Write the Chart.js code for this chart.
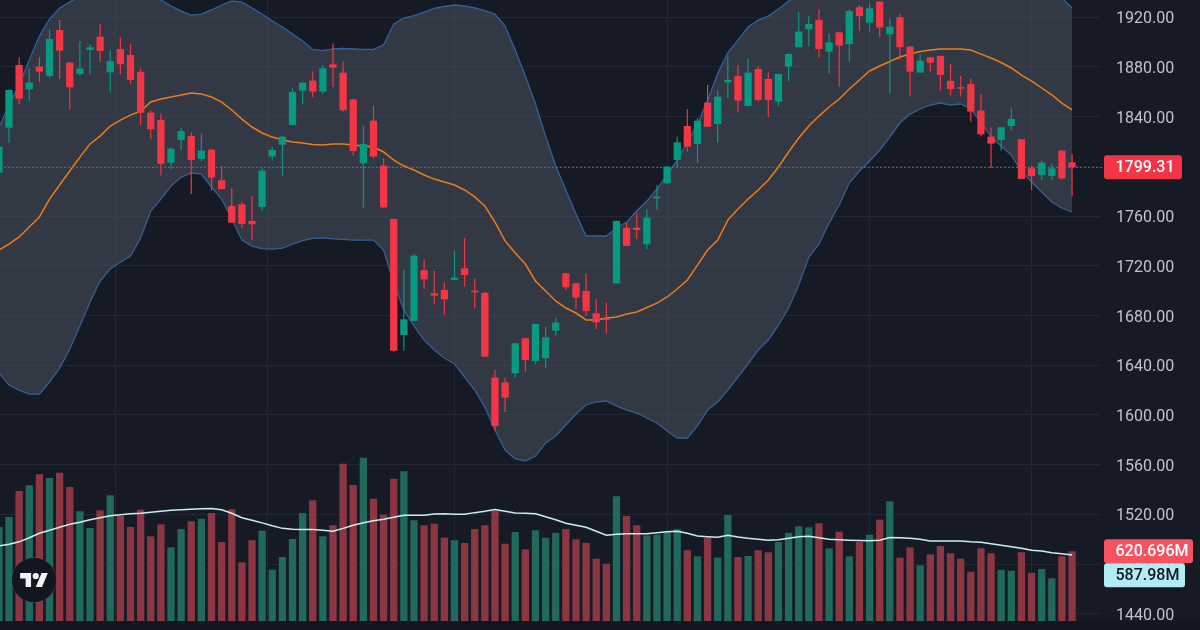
<!DOCTYPE html>
<html><head><meta charset="utf-8">
<script src="https://cdn.jsdelivr.net/npm/chart.js@4.4.1/dist/chart.umd.min.js"></script>
<style>html,body{margin:0;padding:0;background:#161a25;}canvas{display:block;}</style>
</head><body>
<canvas id="c" width="1200" height="630"></canvas>
<script>
// ---- data ----
const openP = [1795.0,1831.2,1881.6,1862.0,1880.3,1872.8,1909.8,1883.5,1874.4,1893.7,
1904.4,1875.7,1894.5,1889.7,1876.2,1843.3,1837.4,1803.0,1821.3,1824.5,
1806.0,1813.5,1788.8,1768.2,1769.5,1756.1,1767.4,1808.0,1817.5,1833.3,
1861.0,1869.0,1860.2,1882.2,1875.4,1854.0,1802.5,1836.8,1800.6,1757.7,
1664.3,1675.6,1716.4,1697.9,1700.6,1708.6,1718.0,1700.0,1698.4,1630.0,
1626.2,1633.5,1661.7,1643.4,1645.6,1667.8,1714.0,1705.9,1699.7,1681.8,
1677.8,1705.9,1750.7,1750.7,1737.3,1774.3,1786.4,1805.2,1832.5,1818.0,
1851.3,1834.2,1867.7,1872.8,1848.6,1878.4,1870.4,1852.1,1880.3,1895.9,
1910.3,1917.9,1892.4,1907.9,1898.3,1928.1,1915.7,1932.6,1906.3,1920.0,
1896.4,1875.5,1887.8,1888.9,1868.8,1863.7,1866.3,1844.9,1824.0,1821.3,
1832.5,1821.8,1798.5,1793.1,1792.3,1812.7,1803.3];
const highP = [1818.0,1862.0,1887.8,1879.0,1887.8,1910.3,1917.9,1884.0,1901.0,1898.5,
1914.6,1893.7,1903.9,1898.5,1879.0,1844.9,1842.2,1815.0,1831.2,1827.4,
1826.6,1814.0,1800.4,1782.4,1771.6,1776.2,1799.0,1815.9,1824.3,1862.9,
1867.6,1876.3,1881.6,1899.0,1884.3,1854.5,1832.8,1848.6,1806.3,1758.0,
1716.6,1729.3,1725.2,1716.1,1706.5,1732.2,1742.1,1709.7,1698.8,1636.2,
1630.0,1657.8,1662.0,1673.5,1671.1,1677.8,1714.5,1706.2,1714.0,1693.0,
1690.4,1756.5,1754.7,1762.3,1765.5,1785.1,1800.5,1824.0,1846.0,1838.7,
1865.5,1861.0,1888.3,1881.6,1886.5,1880.3,1875.5,1874.8,1891.0,1924.0,
1921.1,1926.4,1907.1,1908.2,1926.4,1930.0,1931.3,1932.9,1918.7,1922.7,
1896.7,1890.5,1888.1,1889.2,1882.4,1872.8,1870.4,1858.3,1831.5,1831.8,
1846.5,1822.1,1800.6,1804.6,1802.5,1813.0,1810.0];
const lowP = [1793.0,1819.0,1850.0,1852.7,1868.2,1871.4,1870.4,1846.0,1872.8,1874.4,
1884.0,1859.4,1874.4,1866.3,1833.3,1821.8,1792.6,1797.7,1813.2,1777.8,
1804.4,1780.5,1781.5,1754.5,1750.2,1740.8,1764.1,1804.6,1792.6,1833.0,
1850.0,1855.6,1858.3,1863.7,1844.1,1808.7,1766.7,1806.6,1766.5,1650.9,
1651.7,1675.3,1701.6,1688.8,1680.7,1708.3,1703.3,1685.8,1646.6,1587.0,
1602.6,1630.0,1634.8,1641.0,1638.0,1663.8,1700.6,1685.0,1679.6,1669.2,
1665.6,1705.6,1735.8,1741.3,1733.3,1764.9,1786.0,1799.8,1811.9,1802.5,
1831.8,1819.1,1854.8,1843.5,1848.3,1852.1,1839.5,1848.6,1868.2,1895.6,
1896.4,1887.8,1874.9,1864.2,1884.3,1909.3,1908.5,1904.4,1858.8,1886.2,
1856.2,1875.2,1876.3,1861.0,1857.0,1856.2,1836.0,1824.0,1798.5,1812.7,
1829.3,1789.6,1781.0,1789.1,1789.1,1789.1,1775.7];
const closeP = [1815.9,1861.5,1854.5,1867.4,1876.3,1902.6,1893.2,1863.7,1878.7,1895.9,
1892.9,1884.8,1882.2,1869.6,1843.3,1829.9,1802.0,1814.3,1828.5,1805.2,
1812.7,1791.0,1781.8,1754.7,1753.7,1753.4,1796.6,1813.2,1824.0,1859.9,
1867.4,1860.2,1879.0,1879.5,1845.2,1812.4,1818.0,1807.9,1767.0,1651.7,
1676.9,1728.2,1709.1,1696.0,1693.0,1710.5,1712.6,1698.7,1646.9,1591.1,
1613.9,1657.6,1644.2,1673.2,1662.5,1674.3,1702.7,1694.4,1683.7,1674.5,
1676.4,1756.1,1736.0,1748.8,1758.8,1775.7,1799.8,1819.4,1815.9,1836.8,
1832.0,1856.2,1869.6,1852.9,1875.5,1853.5,1853.5,1874.4,1890.5,1908.5,
1914.6,1894.5,1899.9,1897.2,1925.1,1921.1,1927.2,1911.7,1912.5,1895.9,
1876.3,1885.1,1883.5,1873.6,1862.3,1862.6,1844.1,1825.8,1818.3,1831.5,
1838.2,1789.9,1792.3,1803.0,1798.5,1790.4,1799.31];
const bbUpper = [1830.9,1849.4,1865.5,1885.6,1904.9,1918.6,1927.5,1932.3,1937.0,1940.0,
1942.0,1946.0,1950.0,1950.0,1947.0,1940.0,1934.0,1929.1,1925.0,1921.8,
1922.6,1925.9,1929.9,1933.1,1932.3,1927.5,1922.6,1917.0,1912.2,1906.5,
1900.9,1894.1,1893.2,1894.5,1894.9,1894.5,1894.2,1894.2,1897.7,1914.6,
1919.4,1921.4,1924.2,1927.2,1928.7,1929.9,1929.1,1927.5,1925.4,1922.6,
1913.0,1893.7,1872.7,1850.2,1824.4,1800.3,1781.0,1761.7,1744.0,1744.0,
1744.0,1750.4,1755.2,1764.1,1772.1,1781.8,1793.1,1805.1,1819.6,1834.1,
1853.0,1875.0,1891.3,1901.7,1912.2,1917.8,1921.0,1926.7,1933.1,1938.0,
1944.0,1948.0,1950.0,1952.0,1953.0,1954.0,1955.0,1955.0,1954.0,1952.0,
1950.0,1948.0,1946.0,1945.0,1945.0,1945.0,1945.0,1947.0,1951.0,1951.0,
1949.0,1951.0,1950.0,1947.0,1944.0,1935.5,1927.5];
const bbMiddle = [1732.7,1737.5,1743.2,1751.2,1759.3,1773.7,1785.0,1796.3,1807.5,1818.0,
1824.4,1832.5,1837.3,1841.3,1844.6,1851.8,1854.2,1855.8,1857.5,1859.1,
1858.3,1855.8,1851.8,1845.4,1838.1,1831.7,1826.9,1823.6,1821.2,1819.6,
1818.8,1817.6,1817.2,1818.0,1818.0,1817.2,1816.4,1815.6,1811.6,1805.1,
1800.3,1797.1,1793.1,1789.8,1787.4,1785.0,1781.0,1775.4,1768.1,1755.2,
1740.0,1730.3,1721.4,1707.8,1699.7,1691.7,1686.0,1682.0,1676.4,1676.4,
1678.0,1678.8,1681.2,1682.8,1686.4,1690.0,1694.9,1701.3,1708.6,1720.6,
1732.7,1740.7,1756.8,1765.7,1773.7,1781.0,1789.0,1799.5,1811.6,1822.9,
1832.5,1840.5,1847.8,1854.2,1862.3,1869.5,1876.8,1880.8,1884.4,1888.0,
1890.4,1892.5,1893.7,1894.5,1894.5,1894.5,1893.7,1890.4,1887.2,1883.6,
1879.2,1873.5,1868.7,1863.1,1857.5,1851.0,1845.4];
const bbLower = [1633.7,1624.0,1620.0,1616.8,1616.8,1626.5,1637.7,1653.0,1671.5,1690.9,
1707.8,1717.4,1723.0,1727.9,1742.4,1764.1,1773.7,1784.2,1791.4,1794.7,
1793.9,1783.4,1773.7,1757.6,1740.7,1735.9,1733.9,1733.5,1734.3,1737.5,
1740.3,1742.0,1742.4,1741.6,1741.2,1740.7,1740.7,1740.7,1732.7,1706.2,
1684.4,1671.5,1660.3,1652.2,1645.8,1641.0,1630.5,1620.0,1606.3,1587.8,
1571.7,1564.5,1562.9,1566.9,1577.4,1583.0,1591.9,1600.7,1608.0,1610.4,
1611.2,1607.2,1603.9,1601.5,1597.5,1593.5,1587.0,1581.4,1581.4,1591.1,
1603.9,1610.4,1620.0,1630.5,1641.0,1652.2,1660.3,1672.3,1686.0,1704.6,
1727.1,1737.5,1754.4,1768.9,1786.6,1796.3,1804.3,1813.2,1823.6,1834.9,
1842.1,1846.2,1849.4,1851.0,1849.4,1850.2,1846.2,1835.7,1823.6,1816.4,
1809.1,1796.3,1787.4,1779.4,1771.3,1766.5,1763.3];
const volumeM = [837,926,1158,1208,1306,1273,1321,1193,977,828,
986,1119,935,837,991,754,861,656,819,888,
911,962,703,995,523,719,804,457,570,730,
962,1075,754,852,1401,1211,1454,1089,947,1267,
1333,897,852,867,742,719,695,819,852,980,
688,793,638,808,742,786,819,727,695,555,
510,1110,935,852,763,769,793,817,630,576,
742,564,944,570,579,630,612,703,786,843,
834,870,647,795,576,703,769,902,1066,564,
656,496,594,668,603,555,439,647,603,457,
448,612,430,463,380,576,620.696];
const volumeMA = [668,683,705,741,781,808,834,861,879,901,
919,937,946,955,959,968,977,986,990,995,
999,1001,990,959,919,897,874,848,825,817,
814,814,808,799,825,852,874,892,906,923,
941,941,941,953,955,950,950,965,977,992,
977,962,959,955,928,901,870,852,834,799,
763,772,778,778,778,785,794,799,781,757,
750,745,763,748,736,728,719,723,736,750,
754,741,728,723,719,716,714,719,743,741,
736,728,712,712,712,712,705,701,687,674,
661,647,630,623,607,598,587.98];
const priceTicks = [1440,1480,1520,1560,1600,1640,1680,1720,1760,1800,1840,1880,1920];
const timeGridAt = [19,34,56,76,96,108];
const lastPrice = 1799.31, lastVolume = 620.696, lastVolumeMA = 587.98;

// ---- styling ----
const BG = '#161a25', GRID = '#232734';
const UP = '#089981', DOWN = '#f23645';
const VUP = '#21695b', VDOWN = '#8b3743';
const idx = closeP.map((_, i) => i);
const isUp = i => closeP[i] >= openP[i];
const pts = arr => idx.map(i => ({x: i, y: arr[i]}));

const bgPlugin = {
  id: 'bg',
  beforeDraw(chart) {
    const c = chart.ctx;
    c.save(); c.fillStyle = BG; c.fillRect(0, 0, chart.width, chart.height);
    c.fillStyle = '#131722'; c.fillRect(0, chart.chartArea.bottom, chart.width, chart.height - chart.chartArea.bottom);
    c.restore();
  }
};
function rr(c, x, y, w, h, r) {
  c.beginPath(); c.moveTo(x + r, y); c.lineTo(x + w - r, y); c.quadraticCurveTo(x + w, y, x + w, y + r);
  c.lineTo(x + w, y + h - r); c.quadraticCurveTo(x + w, y + h, x + w - r, y + h);
  c.lineTo(x + r, y + h); c.quadraticCurveTo(x, y + h, x, y + h - r);
  c.lineTo(x, y + r); c.quadraticCurveTo(x, y, x + r, y); c.closePath();
}
const overlay = {
  id: 'overlay',
  afterDatasetsDraw(chart) {
    const c = chart.ctx, ys = chart.scales.y;
    const py = Math.round(ys.getPixelForValue(lastPrice)) + 0.5;
    c.save(); c.strokeStyle = 'rgba(242,54,69,0.85)'; c.lineWidth = 1; c.setLineDash([2, 2]);
    c.beginPath(); c.moveTo(0, py); c.lineTo(1104, py); c.stroke(); c.restore();
  },
  afterDraw(chart) {
    const c = chart.ctx, ys = chart.scales.y, vs = chart.scales.v;
    c.save();
    c.font = '500 16px Roboto'; c.textBaseline = 'middle'; c.textAlign = 'left';
    const py = ys.getPixelForValue(lastPrice);
    c.fillStyle = '#f23645'; rr(c, 1104, py - 12, 78, 24, 3); c.fill();
    c.fillStyle = '#ffffff'; c.fillText(lastPrice.toFixed(2), 1115.5, py + 1);
    const vy = vs.getPixelForValue(lastVolume);
    c.fillStyle = '#f7525f'; rr(c, 1104, vy - 12, 89, 24, 3); c.fill();
    c.fillStyle = '#ffffff'; c.fillText(lastVolume.toFixed(3) + 'M', 1115.5, vy + 1);
    const my = vy + 12;
    c.fillStyle = '#b2ebf2'; rr(c, 1104, my, 81, 24, 3); c.fill();
    c.fillStyle = '#131722'; c.fillText(lastVolumeMA.toFixed(2) + 'M', 1115.5, my + 13);
    // logo badge
    c.beginPath(); c.arc(34, 580, 22.5, 0, Math.PI * 2);
    c.fillStyle = '#131620'; c.fill();
    c.strokeStyle = 'rgba(255,255,255,0.10)'; c.lineWidth = 1; c.stroke();
    const s = 0.78, ox = 34 - 35.5 * s / 2, oy = 580 - 13 * s;
    c.fillStyle = '#f0f3fa';
    c.beginPath();
    c.moveTo(ox + 14 * s, oy + 22 * s); c.lineTo(ox + 7 * s, oy + 22 * s); c.lineTo(ox + 7 * s, oy + 11 * s);
    c.lineTo(ox, oy + 11 * s); c.lineTo(ox, oy + 4 * s); c.lineTo(ox + 14 * s, oy + 4 * s); c.closePath(); c.fill();
    c.beginPath(); c.arc(ox + 20 * s, oy + 8 * s, 4 * s, 0, Math.PI * 2); c.fill();
    c.beginPath();
    c.moveTo(ox + 28 * s, oy + 22 * s); c.lineTo(ox + 20 * s, oy + 22 * s); c.lineTo(ox + 27.5 * s, oy + 4 * s);
    c.lineTo(ox + 35.5 * s, oy + 4 * s); c.closePath(); c.fill();
    c.restore();
  }
};

new Chart(document.getElementById('c'), {
  type: 'bar',
  data: {
    datasets: [
      {type: 'line', label: 'BB upper', data: pts(bbUpper), borderColor: '#2f62a0', borderWidth: 1.3,
       pointRadius: 0, tension: 0, fill: '+1', backgroundColor: 'rgba(80,86,101,0.5)', yAxisID: 'y', order: 4},
      {type: 'line', label: 'BB lower', data: pts(bbLower), borderColor: '#2f62a0', borderWidth: 1.3,
       pointRadius: 0, tension: 0, fill: false, yAxisID: 'y', order: 4},
      {type: 'line', label: 'BB basis', data: pts(bbMiddle), borderColor: '#ec7c1c', borderWidth: 1.5,
       pointRadius: 0, tension: 0, fill: false, yAxisID: 'y', order: 2},
      {type: 'bar', label: 'wick', data: idx.map(i => ({x: i, y: [lowP[i], highP[i]]})),
       backgroundColor: idx.map(i => isUp(i) ? UP : DOWN), grouped: false, maxBarThickness: 1.2, yAxisID: 'y', order: 1},
      {type: 'bar', label: 'body', data: idx.map(i => ({x: i, y: [Math.min(openP[i], closeP[i]), Math.max(openP[i], closeP[i])]})),
       backgroundColor: idx.map(i => isUp(i) ? UP : DOWN), grouped: false, maxBarThickness: 8, yAxisID: 'y', order: 0},
      {type: 'line', label: 'Volume MA', data: pts(volumeMA), borderColor: '#cdeef1', borderWidth: 1.5,
       pointRadius: 0, tension: 0, fill: false, yAxisID: 'v', order: 5},
      {type: 'bar', label: 'Volume', data: pts(volumeM), backgroundColor: idx.map(i => isUp(i) ? VUP : VDOWN),
       grouped: false, maxBarThickness: 9, yAxisID: 'v', order: 6}
    ]
  },
  options: {
    responsive: false, animation: false, devicePixelRatio: 1,
    layout: {padding: 0},
    plugins: {legend: {display: false}, tooltip: {enabled: false}},
    scales: {
      x: {type: 'linear', min: 0.109, max: 108.76, offset: false,
          grid: {color: GRID, drawTicks: false}, border: {display: false},
          ticks: {display: false},
          afterBuildTicks: s => { s.ticks = timeGridAt.map(v => ({value: v})); },
          afterFit: s => { s.height = 9; s.paddingLeft = 0; s.paddingRight = 0; }},
      y: {type: 'linear', position: 'right', min: 1434.13, max: 1933.92,
          grid: {color: GRID, drawTicks: false}, border: {display: false},
          ticks: {color: '#c0c3ca', padding: 16, labelOffset: 2, font: {family: 'Roboto', size: 16},
                  callback: v => Number(v).toFixed(2)},
          afterBuildTicks: s => { s.ticks = priceTicks.map(v => ({value: v})); },
          afterFit: s => { s.width = 100; s.paddingTop = 0; s.paddingBottom = 0; }},
      v: {type: 'linear', display: false, min: 0, max: 5530}
    }
  },
  plugins: [bgPlugin, overlay]
});
</script>
</body></html>
